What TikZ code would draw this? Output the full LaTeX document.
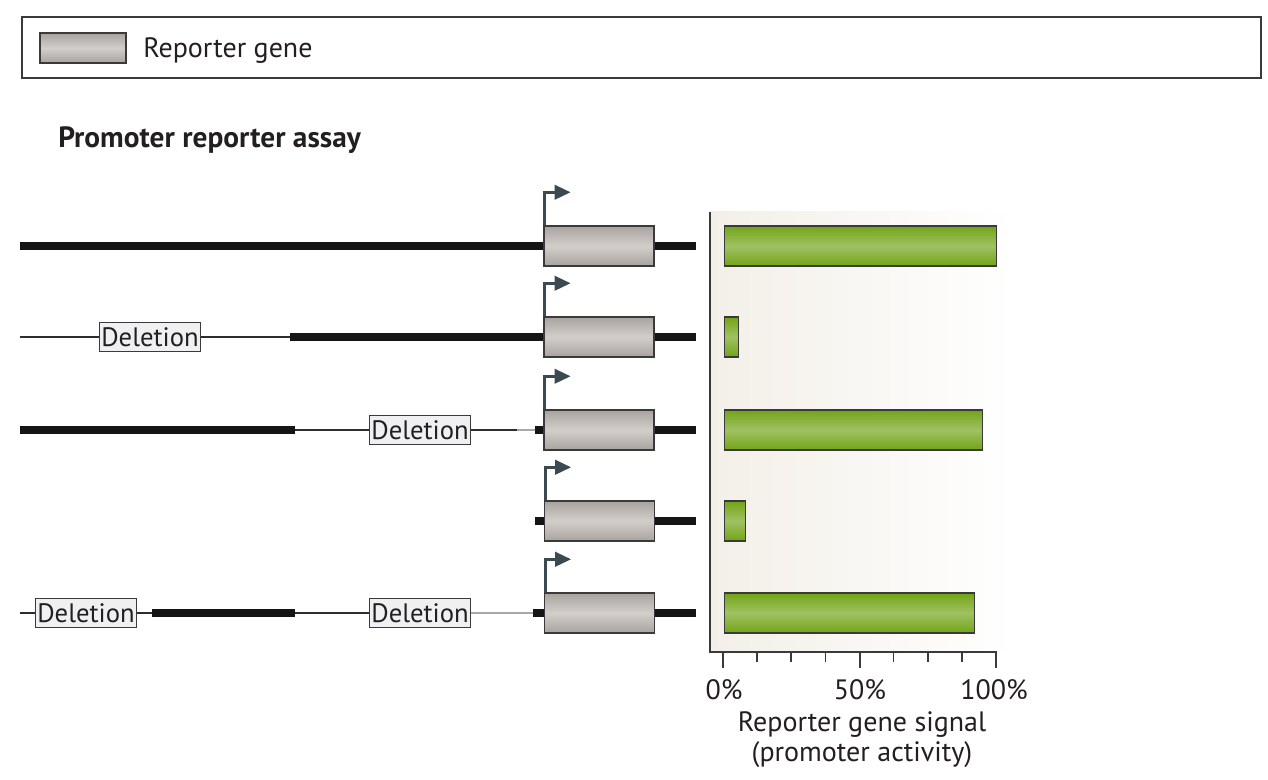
\documentclass[tikz,border=0pt]{standalone}
\usepackage{fontspec}
\setmainfont{PT Sans}
\usetikzlibrary{arrows.meta}
\definecolor{textc}{HTML}{231F20}
\definecolor{dnac}{HTML}{141614}
\definecolor{arrowc}{HTML}{3B4A50}
\definecolor{genetop}{HTML}{A9A3A0}
\definecolor{genemid}{HTML}{D3CECB}
\definecolor{bartop}{HTML}{72A415}
\definecolor{barmid}{HTML}{A0C164}
\definecolor{delfill}{HTML}{EEF0F2}
\definecolor{panelc}{HTML}{F3EFE8}
\definecolor{edgec}{HTML}{3A3A3A}
\definecolor{grayline}{HTML}{A8A8A8}
\tikzset{
  gene/.style={draw=edgec, line width=1.1pt, inner sep=0pt, minimum width=82.5pt, minimum height=30pt,
    top color=genetop, bottom color=genetop, middle color=genemid},
  bar/.style={draw=edgec, line width=1pt, inner sep=0pt, minimum height=30pt, anchor=west,
    top color=bartop, bottom color=bartop, middle color=barmid},
  delbox/.style={draw=edgec, line width=0.9pt, fill=delfill, inner xsep=1.5pt, inner ysep=0pt,
    minimum height=21.5pt, font=\fontsize{20}{22}\selectfont, text=textc},
  thick dna/.style={draw=dnac, line width=6pt},
  thin dna/.style={draw=dnac!90, line width=1pt},
  gray dna/.style={draw=grayline, line width=1.2pt},
  promarrow/.style={draw=arrowc, line width=2.6pt, -{Triangle[length=12pt,width=10.5pt]}},
  lbl/.style={font=\fontsize{21}{24}\selectfont, text=textc, inner sep=0pt},
}
\begin{document}
\begin{tikzpicture}[x=0.75pt,y=-0.75pt]
\useasboundingbox (0,0) rectangle (1268,780);
% legend
\draw[edgec, line width=0.9pt] (22,17) rectangle (1261,78);
\node[gene, minimum width=64.5pt, minimum height=22.5pt] (lg) at (83,48) {};
\node[lbl, anchor=west] (lt) at (143,51) {Reporter gene};
% title
\node[lbl, anchor=west, font=\fontsize{22}{24}\selectfont\bfseries] (title) at (58,140) {Promoter reporter assay};
% chart panel
\shade[left color=panelc, right color=white] (710,212) rectangle (1014,652);
% gene boxes
\node[gene] (g1) at (599,246) {};
\node[gene] (g2) at (599,337) {};
\node[gene] (g3) at (599,430) {};
\node[gene] (g4) at (599.5,521) {};
\node[gene] (g5) at (599.5,613) {};
% deletion labels
\node[delbox] (d2) at (150,337) {Deletion};
\node[delbox] (d3) at (420,430) {Deletion};
\node[delbox] (d5a) at (86,613) {Deletion};
\node[delbox] (d5b) at (420,613) {Deletion};
% coordinates
\coordinate (a1) at (20,246); \coordinate (e1) at (696,246);
\coordinate (a2) at (20,337); \coordinate (m2) at (290,337); \coordinate (e2) at (696,337);
\coordinate (a3) at (20,430); \coordinate (m3) at (295,430); \coordinate (n3) at (517,430); \coordinate (s3) at (535,430); \coordinate (e3) at (696,430);
\coordinate (s4) at (535,521); \coordinate (e4) at (696,521);
\coordinate (a5) at (20,613); \coordinate (m5) at (152,613); \coordinate (n5) at (295,613); \coordinate (s5) at (533,613); \coordinate (e5) at (696,613);
% row 1
\draw[thick dna] (a1) -- (g1.west);
\draw[thick dna] (g1.east) -- (e1);
% row 2
\draw[thin dna] (a2) -- (d2.west);
\draw[thin dna] (d2.east) -- (m2);
\draw[thick dna] (m2) -- (g2.west);
\draw[thick dna] (g2.east) -- (e2);
% row 3
\draw[thick dna] (a3) -- (m3);
\draw[thin dna] (m3) -- (d3.west);
\draw[thin dna] (d3.east) -- (n3);
\draw[gray dna] (n3) -- (s3);
\draw[thick dna] (s3) -- (g3.west);
\draw[thick dna] (g3.east) -- (e3);
% row 4
\draw[thick dna] (s4) -- (g4.west);
\draw[thick dna] (g4.east) -- (e4);
% row 5
\draw[thin dna] (a5) -- (d5a.west);
\draw[thin dna] (d5a.east) -- (m5);
\draw[thick dna] (m5) -- (n5);
\draw[thin dna] (n5) -- (d5b.west);
\draw[gray dna] (d5b.east) -- (s5);
\draw[thick dna] (s5) -- (g5.west);
\draw[thick dna] (g5.east) -- (e5);
% promoter arrows
\foreach \g in {g1,g2,g3,g4,g5} {
  \draw[promarrow] ([xshift=1.1pt]\g.north west) -- ++(0,-33) -- ++(26,0);
}
% bars
\node[bar, minimum width=204pt] (b1) at (724,246) {};
\node[bar, minimum width=10.5pt] (b2) at (724,337) {};
\node[bar, minimum width=193.5pt] (b3) at (724,430) {};
\node[bar, minimum width=15.75pt] (b4) at (724,521) {};
\node[bar, minimum width=187.5pt] (b5) at (724,613) {};
% axes
\draw[edgec, line width=1.5pt] (710,212) -- (710,652) -- (997,652);
\foreach \i in {0,...,8} {
  \pgfmathsetmacro{\xx}{723+34.125*\i}
  \ifnum\i=0 \draw[edgec, line width=1.5pt] (\xx,652) -- (\xx,668);
  \else\ifnum\i=4 \draw[edgec, line width=1.5pt] (\xx,652) -- (\xx,668);
  \else\ifnum\i=8 \draw[edgec, line width=1.5pt] (\xx,652) -- (\xx,668);
  \else \draw[edgec, line width=1.2pt] (\xx,652) -- (\xx,662);
  \fi\fi\fi
}
\node[lbl] (t0) at (724,690) {0\%};
\node[lbl] (t50) at (860,690) {50\%};
\node[lbl] (t100) at (994,690) {100\%};
\node[lbl] (xl1) at (862,725) {Reporter gene signal};
\node[lbl] (xl2) at (862,755) {(promoter activity)};
\end{tikzpicture}
\end{document}
